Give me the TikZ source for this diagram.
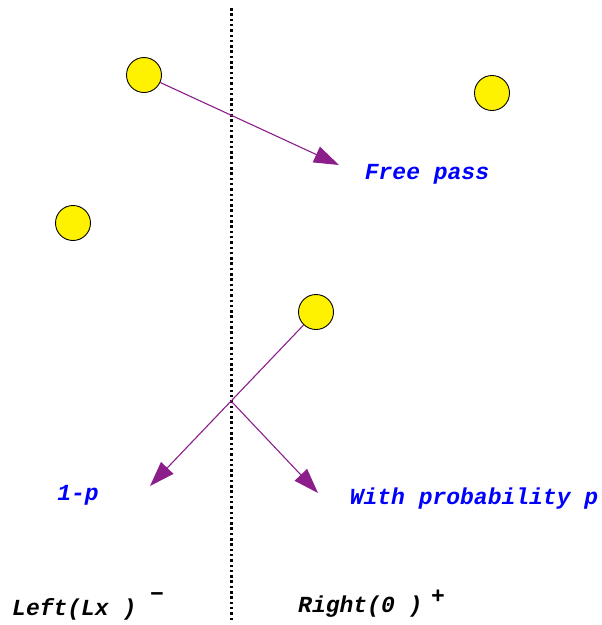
\documentclass[tikz,border=0pt]{standalone}
\usepackage{fontspec}
\setmainfont{Liberation Mono}
\usetikzlibrary{arrows.meta}
\definecolor{arrpurple}{RGB}{140,30,140}
\definecolor{lblblue}{RGB}{0,0,255}
\tikzset{
  ball/.style={circle,draw=black,line width=0.9pt,fill=yellow,minimum size=35pt,inner sep=0pt},
  move/.style={draw=arrpurple,line width=1.1pt,-{Triangle[length=25pt,width=17pt]},color=arrpurple},
  lbl/.style={text=lblblue,font=\fontsize{23}{23}\selectfont\bfseries\itshape,inner sep=0pt},
  side/.style={text=black,font=\fontsize{23}{23}\selectfont\bfseries\itshape,inner sep=0pt},
  divider/.style={line width=3pt,dash pattern=on 2.5pt off 2.8pt}
}
\begin{document}
\begin{tikzpicture}[x=1pt,y=-1pt]
\useasboundingbox (0,0) rectangle (602,625);
\coordinate (dtop) at (231,8);
\coordinate (dbot) at (231,620);
\draw[divider] (dtop) -- (dbot);
\node[ball] (b1) at (144,75) {};
\node[ball] (b2) at (492,93) {};
\node[ball] (b3) at (73,223) {};
\node[ball] (b4) at (316,312) {};
\coordinate (t1) at (339,165);
\coordinate (cross) at (232,402);
\coordinate (tL) at (150,486);
\coordinate (tR) at (318,493);
\draw[move] (b1) -- (t1);
\draw[move] (b4) -- (tL);
\draw[move] (cross) -- (tR);
\node[lbl] (free) at (427,174) {Free pass};
\node[lbl] (onep) at (78,495) {1-p};
\node[lbl] (prob) at (474,499) {With probability p};
\node[side,anchor=west] (left) at (12,609) {Left(Lx )};
\node[side,anchor=west] (lminus) at (150,597) {−};
\node[side,anchor=west] (right) at (298,607) {Right(0 )};
\node[side,anchor=west] (rplus) at (431,597) {+};
\end{tikzpicture}
\end{document}
